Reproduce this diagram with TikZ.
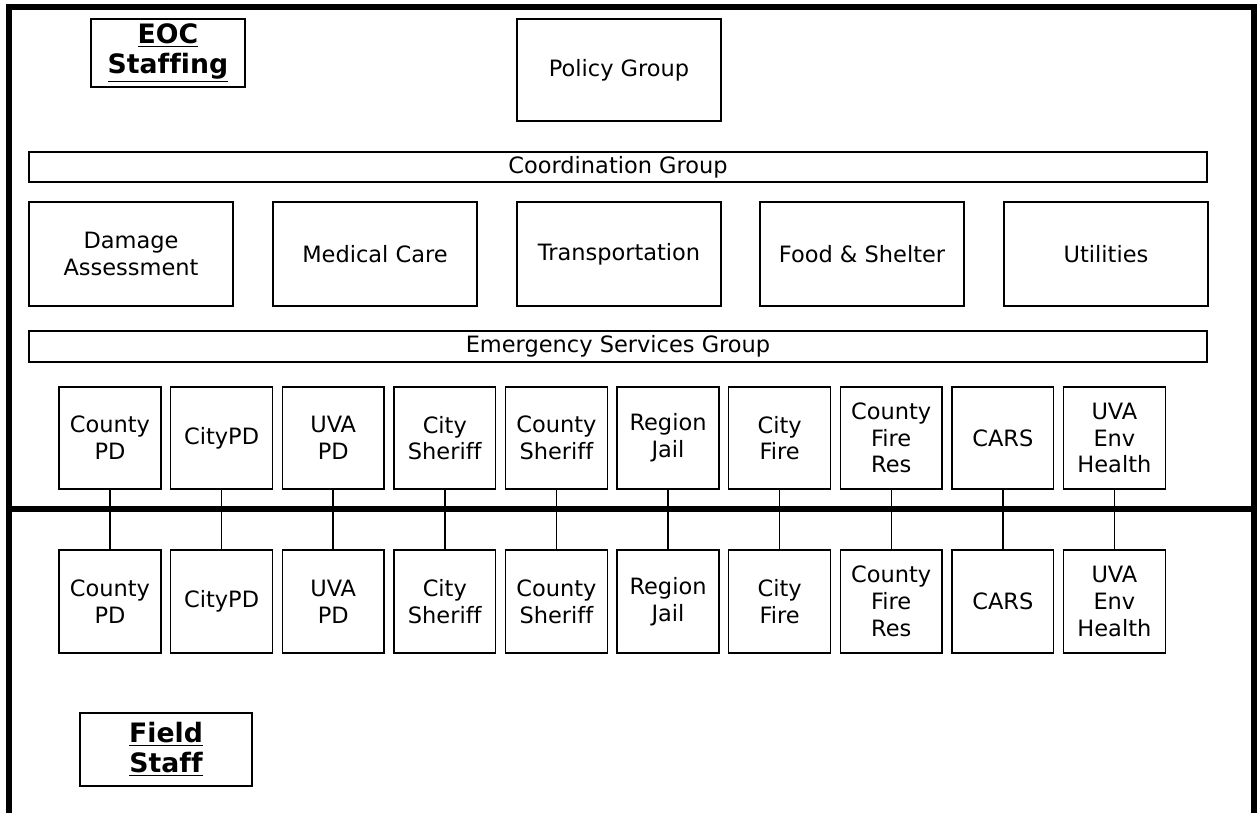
\documentclass[tikz,border=0pt]{standalone}
\usepackage{fontspec}
\setmainfont{DejaVu Sans}[Ligatures=NoCommon]
\usepackage{tikz}

\begin{document}
\begin{tikzpicture}[x=0.02cm,y=-0.02cm,
	box/.style={draw,line width=0.8pt,inner sep=0pt,align=center,font=\fontsize{12.8}{15.2}\selectfont},
	unit/.style={box,minimum width=2.04cm,minimum height=2.04cm},
	group/.style={box,minimum width=4.08cm,minimum height=2.08cm},
	bar/.style={box,minimum width=23.56cm,minimum height=0.6cm},
	title/.style={box,font=\fontsize{15.2}{17}\selectfont\bfseries},
	frame/.style={line width=3.4pt},
	link/.style={line width=0.8pt}]
				\useasboundingbox (0,0) rectangle (1259,813);
				\draw[frame] (9,813) -- (9,7) -- (1254,7) -- (1254,813);
				\draw[frame] (9,509) -- (1254,509); % EOC / field split
				\node[title,minimum width=3.08cm,minimum height=1.36cm] (eoc) at (168,53) {\underline{EOC}\\\underline{Staffing}};
				\node[title,minimum width=3.44cm,minimum height=1.46cm] (field) at (166,749.5) {\underline{Field}\\\underline{Staff}};
				\node[group,minimum height=2.04cm] (policy) at (619,70) {Policy Group};
				\node[bar] (coord) at (618,167) {Coordination Group};
				\node[group] (damage) at (131,254) {Damage\\Assessment};
				\node[group] (medical) at (375,254) {Medical Care};
				\node[group] (transport) at (619,254) {Transportation};
				\node[group] (food) at (862,254) {Food \& Shelter};
				\node[group] (utilities) at (1106,254) {Utilities};
				\node[bar,minimum height=0.62cm] (emergency) at (618,346.5) {Emergency Services Group};
				% EOC row
				\node[unit] (eCountyPD) at (110,438) {County\\PD};
				\node[unit] (eCityPD) at (221.6,438) {CityPD};
				\node[unit] (eUvaPD) at (333.2,438) {UVA\\PD};
				\node[unit] (eCitySheriff) at (444.8,438) {City\\Sheriff};
				\node[unit] (eCountySheriff) at (556.4,438) {County\\Sheriff};
				\node[unit] (eJail) at (668,438) {Region\\Jail};
				\node[unit] (eCityFire) at (779.6,438) {City\\Fire};
				\node[unit] (eCountyFire) at (891.2,438) {County\\Fire\\Res};
				\node[unit] (eCars) at (1002.8,438) {CARS};
				\node[unit] (eEnvHealth) at (1114.4,438) {UVA\\Env\\Health};
				% field row
				\node[unit,minimum height=2.06cm] (fCountyPD) at (110,601.5) {County\\PD};
				\node[unit,minimum height=2.06cm] (fCityPD) at (221.6,601.5) {CityPD};
				\node[unit,minimum height=2.06cm] (fUvaPD) at (333.2,601.5) {UVA\\PD};
				\node[unit,minimum height=2.06cm] (fCitySheriff) at (444.8,601.5) {City\\Sheriff};
				\node[unit,minimum height=2.06cm] (fCountySheriff) at (556.4,601.5) {County\\Sheriff};
				\node[unit,minimum height=2.06cm] (fJail) at (668,601.5) {Region\\Jail};
				\node[unit,minimum height=2.06cm] (fCityFire) at (779.6,601.5) {City\\Fire};
				\node[unit,minimum height=2.06cm] (fCountyFire) at (891.2,601.5) {County\\Fire\\Res};
				\node[unit,minimum height=2.06cm] (fCars) at (1002.8,601.5) {CARS};
				\node[unit,minimum height=2.06cm] (fEnvHealth) at (1114.4,601.5) {UVA\\Env\\Health};
				\draw[link] (eCountyPD) -- (fCountyPD);
				\draw[link] (eCityPD) -- (fCityPD);
				\draw[link] (eUvaPD) -- (fUvaPD);
				\draw[link] (eCitySheriff) -- (fCitySheriff);
				\draw[link] (eCountySheriff) -- (fCountySheriff);
				\draw[link] (eJail) -- (fJail);
				\draw[link] (eCityFire) -- (fCityFire);
				\draw[link] (eCountyFire) -- (fCountyFire);
				\draw[link] (eCars) -- (fCars);
				\draw[link] (eEnvHealth) -- (fEnvHealth);
			\end{tikzpicture}
\end{document}
